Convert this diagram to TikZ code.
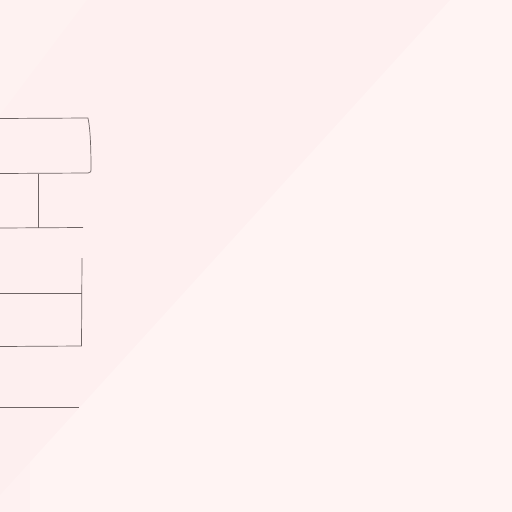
\documentclass[tikz,border=0pt]{standalone}
\begin{document}
\begin{tikzpicture}[x=1pt,y=-1pt,
  ink/.style={draw=inkc, line width=0.7pt, line join=round}]
\definecolor{bgmain}{HTML}{FEF0F0}
\definecolor{bglight}{HTML}{FFF4F3}
\definecolor{bgdark}{HTML}{FDEDED}
\definecolor{inkc}{HTML}{6E6464}
\useasboundingbox (0,0) rectangle (512,512);
\fill[bgmain] (0,0) rectangle (512,512);
\fill[bglight] (450,0) -- (512,0) -- (512,512) -- (0,512) -- (0,495) -- cycle;
\fill[bgdark, opacity=0.3] (0,240) rectangle (30,512);
\fill[bglight!50!bgmain] (0,0) -- (87,0) -- (0,115) -- cycle;
% top box
\coordinate (tl) at (0,118.5);
\coordinate (tr) at (88,118);
\coordinate (br) at (88,173);
\coordinate (bl) at (0,173.5);
\draw[ink] (tl) -- (tr) .. controls (90.5,130) and (91,150) .. (91,170)
  .. controls (91,172) .. (br) -- (bl);
% stem
\coordinate (s1) at (38,173.5);
\coordinate (s2) at (38,228);
\draw[ink] (s1) -- (s2);
\coordinate (h1) at (0,228);
\coordinate (h2) at (83,227.5);
\draw[ink] (h1) -- (h2);
% second box
\coordinate (r1) at (82,258);
\coordinate (r2) at (81.5,346);
\coordinate (m1) at (0,293.5);
\coordinate (m2) at (82,293.5);
\coordinate (b1) at (0,346.5);
\draw[ink] (r1) -- (r2) -- (b1);
\draw[ink] (m1) -- (m2);
% bottom line
\coordinate (l1) at (0,407);
\coordinate (l2) at (79,407);
\draw[ink] (l1) -- (l2);
\end{tikzpicture}
\end{document}
